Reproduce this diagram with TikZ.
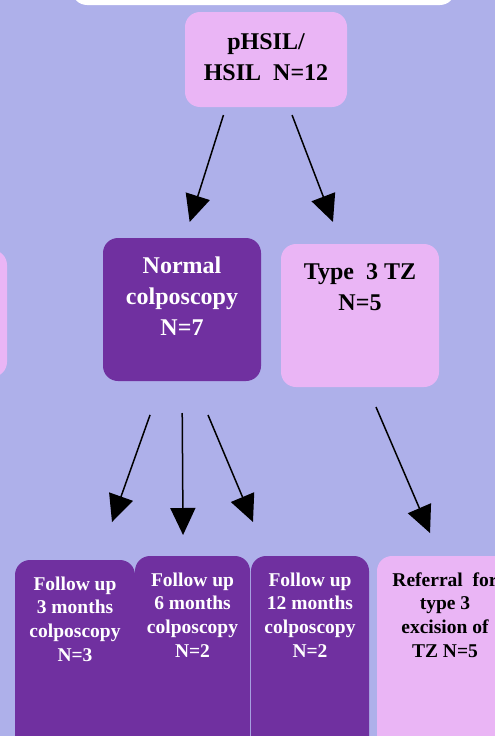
\documentclass[tikz,border=0pt]{standalone}
\usepackage{fontspec}
\setmainfont{Liberation Serif}
\usetikzlibrary{arrows.meta}
\definecolor{bgblue}{RGB}{174,176,234}
\definecolor{pinkbox}{RGB}{234,181,245}
\definecolor{purplebox}{RGB}{112,48,160}
\newcommand\bxt[4]{\parbox[t][#2][t]{#1}{\centering\rule{0pt}{#3}#4\par}}
\begin{document}
\begin{tikzpicture}[x=1pt,y=1pt,
  boxbase/.style={anchor=north west, inner sep=0pt, outer sep=0pt, rounded corners=15pt, font=\bfseries},
  pinkb/.style={boxbase, fill=pinkbox, text=black},
  purpleb/.style={boxbase, fill=purplebox, text=white},
  bigtxt/.style={font=\bfseries\fontsize{24}{31}\selectfont},
  smalltxt/.style={font=\bfseries\fontsize{19.5}{23.8}\selectfont},
  arr/.style={line width=1.5pt, -{Triangle[length=27pt,width=25pt]}}]
\clip (0,0) rectangle (495,-736);
\fill[bgblue] (0,0) rectangle (495,-736);
% top white box (cut off)
\node[boxbase, fill=white, minimum width=383pt, minimum height=50pt] (wb) at (72,45) {};
% left partial box
\node[pinkb, minimum width=157pt, minimum height=127pt] (lb) at (-150,-250) {};
% main boxes
\node[pinkb, bigtxt] (ph) at (185,-12) {\bxt{162pt}{95pt}{37pt}{pHSIL/\\HSIL\ \ N=12}};
\node[purpleb, bigtxt] (nc) at (103,-238) {\bxt{158pt}{143pt}{35pt}{Normal\\colposcopy\\N=7}};
\node[pinkb, bigtxt] (tz) at (281,-244) {\bxt{158pt}{143pt}{35pt}{Type\ \ 3 TZ\\N=5}};
\node[purpleb, smalltxt] (f1) at (15,-560) {\bxt{120pt}{200pt}{30pt}{Follow up\\3 months\\colposcopy\\N=3}};
\node[purpleb, smalltxt] (f2) at (135,-556) {\bxt{115pt}{200pt}{30pt}{Follow up\\6 months\\colposcopy\\N=2}};
\node[purpleb, smalltxt] (f3) at (251,-556) {\bxt{118pt}{200pt}{30pt}{Follow up\\12 months\\colposcopy\\N=2}};
\node[pinkb, smalltxt] (rf) at (377,-556) {\bxt{136pt}{200pt}{30pt}{Referral\ \ for\\type 3\\excision of\\TZ N=5}};
% arrows
\draw[arr, shorten <=8.4pt, shorten >=16.8pt] ([xshift=-40pt]ph.south) -- ([xshift=2.6pt]nc.north);
\draw[arr, shorten <=8.6pt, shorten >=23.6pt] ([xshift=23pt]ph.south) -- ([xshift=-18.6pt]tz.north);
\draw[arr, shorten <=36pt, shorten >=40.3pt] ([xshift=-19.9pt]nc.south) -- ([xshift=23.5pt]f1.north);
\draw[arr, shorten <=32pt, shorten >=21pt] (nc.south) -- ([xshift=-9.3pt]f2.north);
\draw[arr, shorten <=36.9pt, shorten >=36.9pt] ([xshift=11.7pt]nc.south) -- ([xshift=-42.7pt]f3.north);
\draw[arr, shorten <=21.8pt, shorten >=25pt] ([xshift=7.4pt]tz.south) -- ([xshift=-5.1pt]rf.north);
\end{tikzpicture}
\end{document}
